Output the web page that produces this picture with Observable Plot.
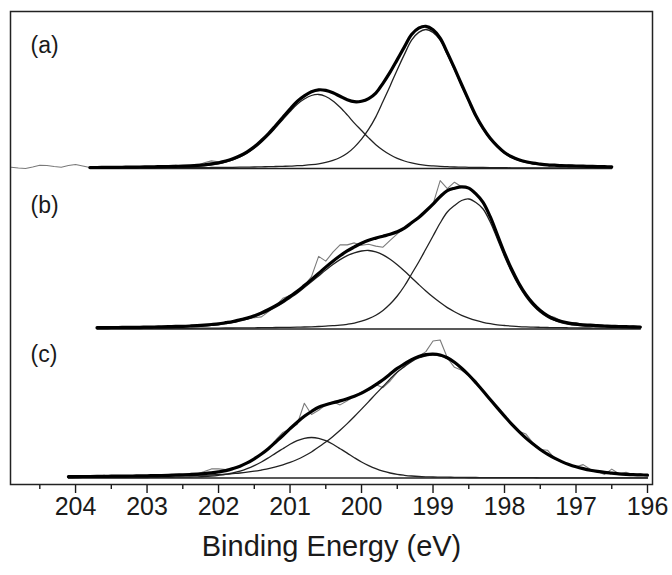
<!DOCTYPE html>
<html><head><meta charset="utf-8">
<script src="https://cdn.jsdelivr.net/npm/d3@7"></script>
<script src="https://cdn.jsdelivr.net/npm/@observablehq/plot@0.6"></script>
<style>body{margin:0;background:#fff}</style>
</head><body><div id="chart"></div>
<script>
// ---- data (intensities above each spectrum's background, arbitrary units) ----
const panelLabels = ["(a)", "(b)", "(c)"];
const panelOffsets = [3.16, 1.555, 0.065];
const majorTicks = [204, 203, 202, 201, 200, 199, 198, 197, 196];
const minorTicks = [204.5, 203.5, 202.5, 201.5, 200.5, 199.5, 198.5, 197.5, 196.5];
const xTitle = "Binding Energy (eV)";

// (a)
const leadEnergyA = [204.9,204.8,204.7,204.6,204.5,204.4,204.3,204.2,204.1,204.0,203.9];
const leadRawA = [0.013,0.005,0,0.015,0.033,0.03,0.02,0.013,0.03,0.04,0.025];
const energyA = [203.8,203.7,203.6,203.5,203.4,203.3,203.2,203.1,203.0,202.9,
 202.8,202.7,202.6,202.5,202.4,202.3,202.2,202.1,202.0,201.9,
 201.8,201.7,201.6,201.5,201.4,201.3,201.2,201.1,201.0,200.9,
 200.8,200.7,200.6,200.5,200.4,200.3,200.2,200.1,200.0,199.9,
 199.8,199.7,199.6,199.5,199.4,199.3,199.2,199.1,199.0,198.9,
 198.8,198.7,198.6,198.5,198.4,198.3,198.2,198.1,198.0,197.9,
 197.8,197.7,197.6,197.5,197.4,197.3,197.2,197.1,197.0,196.9,
 196.8,196.7,196.6,196.5];
const peak1A = [.004,.004,.005,.005,.005,.005,.005,.006,.006,.006,
 .007,.007,.008,.008,.008,.009,.009,.010,.011,.011,
 .012,.013,.014,.015,.017,.018,.020,.022,.024,.028,
 .032,.038,.047,.061,.081,.110,.152,.214,.293,.393,
 .516,.669,.826,.988,1.141,1.283,1.361,1.39,1.361,1.283,
 1.141,.988,.826,.669,.516,.393,.293,.214,.152,.110,
 .081,.061,.047,.038,.032,.028,.024,.022,.020,.018,
 .017,.015,.014,.013];
const peak2A = [.006,.006,.006,.007,.007,.008,.008,.009,.010,.011,
 .012,.013,.014,.016,.019,.022,.028,.036,.047,.064,
 .086,.115,.153,.202,.263,.332,.410,.490,.570,.643,
 .695,.730,.740,.720,.676,.612,.536,.454,.380,.306,
 .238,.183,.137,.101,.075,.056,.042,.032,.026,.021,
 .018,.015,.014,.012,.011,.010,.009,.009,.008,.007,
 .007,.007,.006,.006,.005,.005,.005,.005,.005,.005,
 .004,.004,.004,.004];
const residA = [0,0,0,0,0,0,0,0,0,0,
 0,0,.01,0,0,0,.02,.03,.01,-.01,
 0,0,0,0,0,0,0,0,0,0,
 0,0,0,0,0,0,0,0,0,0,
 0,0,0,0,0,0,.01,0,-.01,0,
 0,0,0,0,0,0,0,0,0,0,
 0,0,0,0,0,0,0,.01,0,-.005,
 0,0,0,0];

// (b)
const energyB = [203.7,203.6,203.5,203.4,203.3,203.2,203.1,203.0,202.9,202.8,
 202.7,202.6,202.5,202.4,202.3,202.2,202.1,202.0,201.9,201.8,
 201.7,201.6,201.5,201.4,201.3,201.2,201.1,201.0,200.9,200.8,
 200.7,200.6,200.5,200.4,200.3,200.2,200.1,200.0,199.9,199.8,
 199.7,199.6,199.5,199.4,199.3,199.2,199.1,199.0,198.9,198.8,
 198.7,198.6,198.5,198.4,198.3,198.2,198.1,198.0,197.9,197.8,
 197.7,197.6,197.5,197.4,197.3,197.2,197.1,197.0,196.9,196.8,
 196.7,196.6,196.5,196.4,196.3,196.2,196.1];
const peak1B = [.004,.004,.005,.005,.005,.005,.005,.006,.006,.006,
 .006,.007,.007,.007,.008,.008,.009,.009,.010,.010,
 .011,.011,.012,.013,.014,.015,.016,.017,.019,.020,
 .022,.025,.029,.033,.038,.047,.059,.078,.103,.138,
 .186,.25,.33,.43,.55,.67,.80,.93,1.06,1.17,
 1.235,1.285,1.30,1.265,1.20,1.07,.90,.725,.568,.434,
 .322,.234,.167,.118,.085,.062,.047,.038,.032,.028,
 .024,.021,.019,.017,.016,.014,.013];
const peak2B = [.009,.009,.010,.010,.011,.011,.012,.013,.014,.015,
 .017,.019,.020,.023,.026,.031,.036,.043,.053,.065,
 .081,.098,.120,.148,.181,.218,.261,.309,.357,.414,
 .472,.531,.590,.645,.694,.734,.762,.780,.785,.771,
 .742,.697,.642,.579,.512,.445,.380,.319,.264,.214,
 .173,.137,.109,.086,.067,.053,.042,.035,.029,.024,
 .021,.019,.017,.015,.013,.013,.012,.011,.010,.010,
 .009,.009,.008,.008,.008,.007,.007];
const residB = [0,0,0,0,0,0,0,0,0,0,
 0,0,0,0,0,0,0,0,0,0,
 0,0,-.02,-.04,-.02,0,.03,.01,0,0,
 .03,.17,.06,.09,.11,.06,.04,-.02,-.04,-.08,
 -.11,-.06,-.02,0,0,0,0,0,.16,.02,
 .06,0,0,0,0,0,0,0,0,0,
 0,0,0,0,.02,0,0,.015,0,0,
 0,0,0,0,0,.01,0];

// (c)
const energyC = [204.1,204.0,203.9,203.8,203.7,203.6,203.5,203.4,203.3,203.2,
 203.1,203.0,202.9,202.8,202.7,202.6,202.5,202.4,202.3,202.2,
 202.1,202.0,201.9,201.8,201.7,201.6,201.5,201.4,201.3,201.2,
 201.1,201.0,200.9,200.8,200.7,200.6,200.5,200.4,200.3,200.2,
 200.1,200.0,199.9,199.8,199.7,199.6,199.5,199.4,199.3,199.2,
 199.1,199.0,198.9,198.8,198.7,198.6,198.5,198.4,198.3,198.2,
 198.1,198.0,197.9,197.8,197.7,197.6,197.5,197.4,197.3,197.2,
 197.1,197.0,196.9,196.8,196.7,196.6,196.5,196.4,196.3,196.2,
 196.1,196.0];
const peak1C = [.011,.011,.012,.012,.013,.013,.014,.015,.015,.016,
 .016,.017,.018,.019,.020,.022,.023,.025,.027,.029,
 .031,.034,.038,.044,.050,.058,.068,.080,.093,.111,
 .132,.156,.185,.220,.260,.310,.359,.416,.478,.544,
 .615,.689,.764,.841,.915,.990,1.060,1.114,1.164,1.200,
 1.222,1.230,1.221,1.194,1.150,1.092,1.025,.947,.866,.781,
 .697,.615,.536,.464,.396,.336,.283,.236,.196,.162,
 .134,.111,.092,.076,.064,.054,.047,.041,.036,.032,
 .030,.027];
const peak2C = [.002,.003,.003,.003,.003,.003,.004,.004,.004,.004,
 .005,.005,.006,.006,.007,.008,.009,.010,.012,.015,
 .020,.027,.036,.050,.068,.093,.124,.160,.203,.249,
 .293,.337,.373,.397,.405,.397,.373,.337,.293,.249,
 .203,.160,.124,.093,.068,.050,.036,.027,.020,.015,
 .012,.010,.009,.008,.007,.006,.005,.005,.004,.004,
 .004,.004,.003,.003,.003,.003,.002,.002,.002,.002,
 .002,.002,.002,.002,.002,.002,.002,.001,.001,.001,
 .001,.001];
const residC = [0,0,0,0,0,.01,-.01,0,0,0,
 0,0,0,0,0,.01,0,0,0,.02,
 .04,.03,.01,0,0,0,0,0,0,.02,
 .03,0,-.02,.13,-.03,-.03,0,.01,-.04,-.02,
 0,.01,-.01,0,-.08,-.07,-.04,-.02,-.01,0,
 .03,.13,.15,0,-.05,-.02,0,.02,0,0,
 0,0,0,0,.04,.01,0,.04,0,0,
 0,0,.04,.01,0,-.02,.04,0,.02,0,
 .01,0];

// ---- build rows ----
const spectra = [
  {energy: energyA, p1: peak1A, p2: peak2A, resid: residA},
  {energy: energyB, p1: peak1B, p2: peak2B, resid: residB},
  {energy: energyC, p1: peak1C, p2: peak2C, resid: residC}
];
const rows = [];
const rawRows = [];
spectra.forEach((s, k) => {
  const off = panelOffsets[k];
  if (k === 0) {
    leadEnergyA.forEach((e, i) => rawRows.push({panel: panelLabels[k], e, raw: off + leadRawA[i]}));
  }
  s.energy.forEach((e, i) => {
    const fit = s.p1[i] + s.p2[i];
    rows.push({panel: panelLabels[k], e, base: off, c1: off + s.p1[i], c2: off + s.p2[i], fit: off + fit});
    rawRows.push({panel: panelLabels[k], e, raw: off + fit + s.resid[i]});
  });
});
const labelRows = panelLabels.map((t, k) => ({t, y: panelOffsets[k] + 1.23}));

const font = "'Liberation Sans', Arial, Helvetica, sans-serif";
const chart = Plot.plot({
  width: 672,
  height: 575,
  marginLeft: 10,
  marginRight: 20,
  marginTop: 11,
  marginBottom: 91,
  style: {fontFamily: font, background: "#fff", color: "#1a1a1a"},
  x: {domain: [204.91, 195.93], label: null},
  y: {domain: [0, 4.73], axis: null},
  marks: [
    Plot.axisX({ticks: minorTicks, tickSize: 5, tickFormat: () => "", strokeWidth: 1.4, label: null}),
    Plot.axisX({ticks: majorTicks, tickSize: 9, tickPadding: 4, fontSize: 25, tickFormat: d => String(d), strokeWidth: 1.4, label: null}),
    Plot.line(rows, {x: "e", y: "base", z: "panel", stroke: "#222", strokeWidth: 1.3}),
    Plot.line(rawRows, {x: "e", y: "raw", z: "panel", stroke: "#7a7a7a", strokeWidth: 1.1}),
    Plot.line(rows, {x: "e", y: "c1", z: "panel", stroke: "#222", strokeWidth: 1.3, curve: "catmull-rom"}),
    Plot.line(rows, {x: "e", y: "c2", z: "panel", stroke: "#222", strokeWidth: 1.3, curve: "catmull-rom"}),
    Plot.line(rows, {x: "e", y: "fit", z: "panel", stroke: "#000", strokeWidth: 3.2, curve: "catmull-rom"}),
    Plot.text(labelRows, {y: "y", text: "t", frameAnchor: "left", dx: 20, textAnchor: "start", fontSize: 23, fill: "#1a1a1a"}),
    Plot.text([xTitle], {text: d => d, frameAnchor: "bottom", dy: 71, fontSize: 29, fill: "#1a1a1a"}),
    Plot.frame({stroke: "#222", strokeWidth: 1.5})
  ]
});
document.getElementById("chart").appendChild(chart);
</script>
</body></html>
